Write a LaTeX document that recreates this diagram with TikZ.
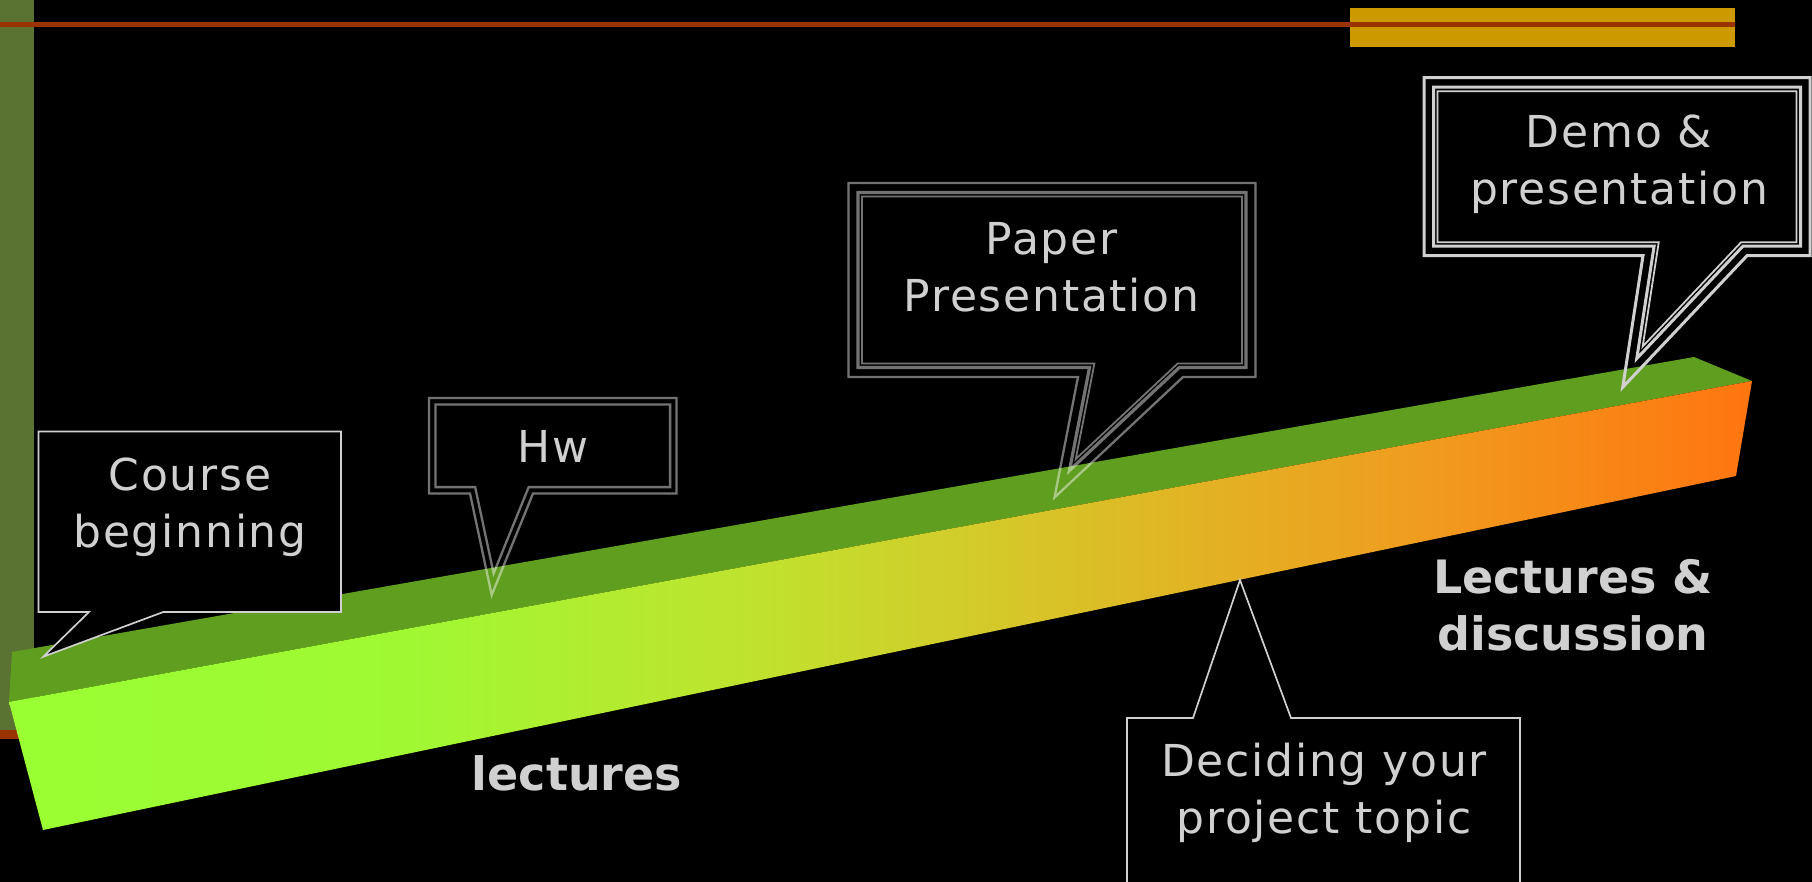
\documentclass[tikz,border=0pt]{standalone}
\usepackage{fontspec}
\setmainfont{DejaVu Sans}
\newfontfamily\bubblefont{DejaVu Sans}[LetterSpace=4]

\definecolor{slidegreen}{HTML}{5A7232}
\definecolor{rulered}{HTML}{993300}
\definecolor{gold}{HTML}{CC9900}
\definecolor{topface}{HTML}{609E20}
\definecolor{textgray}{HTML}{D0D0D0}
\definecolor{bar0}{HTML}{99FF33}
\definecolor{bar1}{HTML}{A0F833}
\definecolor{bar2}{HTML}{C0E22E}
\definecolor{bar3}{HTML}{D4CA2A}
\definecolor{bar4}{HTML}{E6AC22}
\definecolor{bar5}{HTML}{EF9E1F}
\definecolor{bar6}{HTML}{FF7510}

\pgfdeclarehorizontalshading{barshade}{100bp}{color(0bp)=(bar0); color(25bp)=(bar0); color(36.5bp)=(bar1); color(46.5bp)=(bar2); color(53bp)=(bar3); color(61bp)=(bar4); color(65bp)=(bar5); color(75bp)=(bar6); color(100bp)=(bar6)}

% box: left, top, right, bottom; pointer: base left, base right, tip x, tip y
\newcommand{\setbubble}[8]{\def\bbLeft{#1}\def\bbTop{#2}\def\bbRight{#3}\def\bbBottom{#4}%
  \def\bbBaseL{#5}\def\bbBaseR{#6}\def\bbTipX{#7}\def\bbTipY{#8}}
% outline of the bubble, moved inwards by #2
\newcommand{\bubbleline}[2][]{%
  \pgfmathsetmacro\bbdxR{\bbTipX-\bbBaseR}
  \pgfmathsetmacro\bbdxL{\bbTipX-\bbBaseL}
  \pgfmathsetmacro\bbdy{\bbTipY-\bbBottom}
  \pgfmathsetmacro\bbLR{10*veclen((\bbdxR)/10,(\bbdy)/10)}
  \pgfmathsetmacro\bbLL{10*veclen((\bbdxL)/10,(\bbdy)/10)}
  \pgfmathsetmacro\bbR{\bbBaseR-(#2)*((\bbLR+(\bbdxR))/\bbLR)*((\bbdxR)/\bbdy)-(#2)*(\bbdy/\bbLR)}
  \pgfmathsetmacro\bbL{\bbBaseL-(#2)*((\bbLL-(\bbdxL))/\bbLL)*((\bbdxL)/\bbdy)+(#2)*(\bbdy/\bbLL)}
  \pgfmathsetmacro\bbs{(\bbR-\bbL)/((\bbdxL)-(\bbdxR))}
  \pgfmathsetmacro\bbtx{\bbR+\bbs*(\bbdxR)}
  \pgfmathsetmacro\bbty{\bbBottom-(#2)+\bbs*\bbdy}
  \draw[#1] (\bbLeft+#2,\bbTop+#2) -- (\bbRight-#2,\bbTop+#2) -- (\bbRight-#2,\bbBottom-#2)
    -- (\bbR,\bbBottom-#2) -- (\bbtx,\bbty) -- (\bbL,\bbBottom-#2) -- (\bbLeft+#2,\bbBottom-#2) -- cycle;
}

\begin{document}
\begin{tikzpicture}[x=1pt,y=-1pt,
  bubble/.style={text=textgray,font=\bubblefont\fontsize{44}{57}\selectfont,align=center,inner sep=0pt},
  barlabel/.style={text=textgray,font=\fontsize{46}{57}\selectfont\bfseries,align=center,inner sep=0pt},
  faint line/.style={draw=white,draw opacity=.45},
  bright line/.style={draw=textgray},
  plain bubble/.style={draw=textgray,fill=black,line width=1.7pt}]

  \useasboundingbox (0,0) rectangle (1812,882);
  \fill[black] (0,0) rectangle (1812,882);

  % slide template
  \fill[slidegreen] (0,0) rectangle (34,730);
  \fill[rulered] (0,730) rectangle (34,739);
  \fill[gold] (1350,8) rectangle (1735,47);
  \fill[rulered] (0,22) rectangle (1735,27);

  % the bar
  \fill[topface] (12,652) -- (1694,357) -- (1752,381) -- (9,702) -- cycle;
  \shade[shading=barshade] (9,702) -- (1752,381) -- (1736,476) -- (43,830) -- cycle;

  % callouts (base anchor sits on the last line)
  \setbubble{38.5}{431.5}{341}{612}{89}{163.3}{43.3}{656.7}
  \bubbleline[plain bubble]{0}
  \node[bubble,anchor=base] (course) at (190,547.5) {Course\\beginning};

  \setbubble{429}{398}{676.5}{493.5}{470}{533}{491.7}{595}
  \foreach \inset in {0,6.4} {\bubbleline[faint line,line width=2.3pt]{\inset}}
  \node[bubble,anchor=base] (hw) at (553,462) {Hw};

  \setbubble{848.5}{183}{1255.5}{377}{1078}{1183}{1054.5}{497.5}
  \foreach \inset/\w in {0/2.3pt,9.5/3.2pt,13.5/1.8pt} {\bubbleline[faint line,line width=\w]{\inset}}
  \node[bubble,anchor=base] (paper) at (1051.5,312) {Paper\\Presentation};

  \setbubble{1424}{77.7}{1810}{255.7}{1643}{1747}{1622.7}{387.3}
  \foreach \inset/\w in {0/3pt,9.5/3pt,13.5/1.8pt} {\bubbleline[bright line,line width=\w]{\inset}}
  \node[bubble,anchor=base] (demo) at (1619,205) {Demo \&\\presentation};

  \draw[plain bubble] (1127,718) -- (1193,718) -- (1240,580) -- (1291,718) -- (1520,718) -- (1520,895) -- (1127,895) -- cycle;
  \node[bubble,anchor=base] (topic) at (1324,833) {Deciding your\\project topic};

  % bar labels
  \node[barlabel,anchor=base] (lect) at (577,790) {lectures};
  \node[barlabel,anchor=base] (lectdisc) at (1573,650) {Lectures \&\\discussion};

\end{tikzpicture}
\end{document}
